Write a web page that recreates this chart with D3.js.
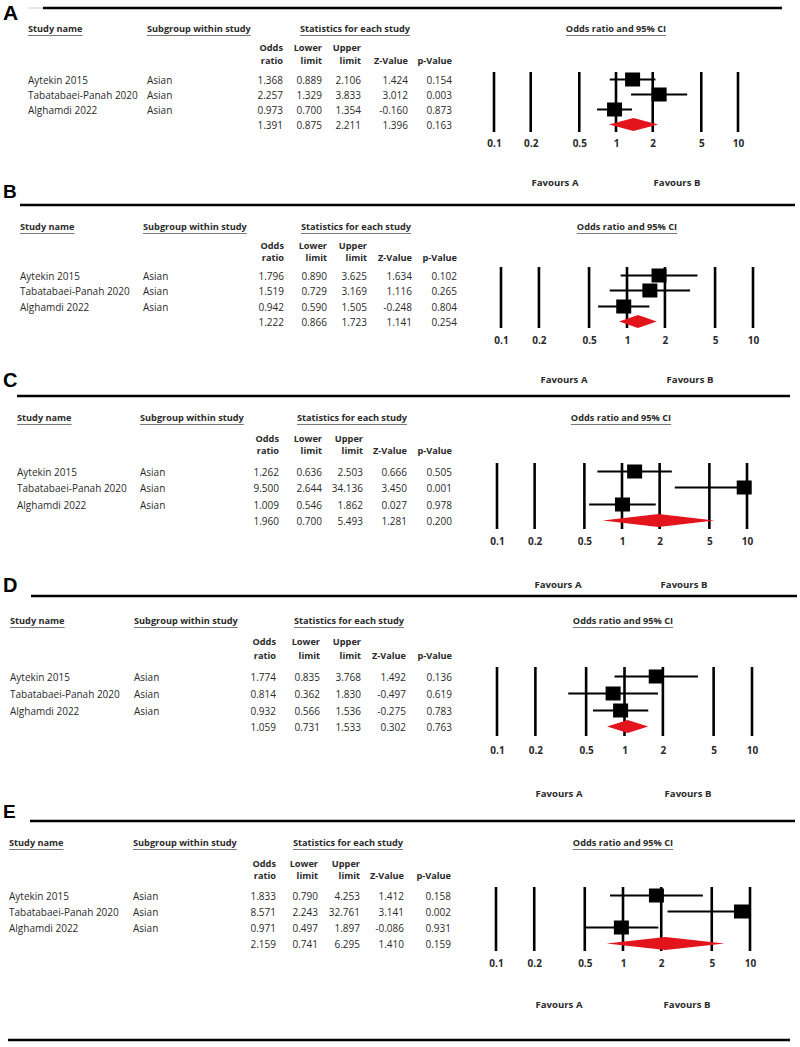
<!DOCTYPE html>
<html><head><meta charset="utf-8">
<script src="https://cdn.jsdelivr.net/npm/d3@7"></script>
<style>
html,body{margin:0;padding:0;background:#fff;}
svg{display:block;}
text{font-family:"Open Sans",Lato,sans-serif;fill:#2a2a2a;}
</style></head>
<body>
<svg id="chart" width="800" height="1047"></svg>
<script>
// ---------------- data ----------------
const panelLabels = ["A","B","C","D","E"];
const studies = ["Aytekin 2015","Tabatabaei-Panah 2020","Alghamdi 2022"];
const subgroups = ["Asian","Asian","Asian"];
// last value in each row = summary (diamond)
const oddsRatio = [
  [1.368,2.257,0.973,1.391],
  [1.796,1.519,0.942,1.222],
  [1.262,9.500,1.009,1.960],
  [1.774,0.814,0.932,1.059],
  [1.833,8.571,0.971,2.159]
];
const lowerLimit = [
  [0.889,1.329,0.700,0.875],
  [0.890,0.729,0.590,0.866],
  [0.636,2.644,0.546,0.700],
  [0.835,0.362,0.566,0.731],
  [0.790,2.243,0.497,0.741]
];
const upperLimit = [
  [2.106,3.833,1.354,2.211],
  [3.625,3.169,1.505,1.723],
  [2.503,34.136,1.862,5.493],
  [3.768,1.830,1.536,1.533],
  [4.253,32.761,1.897,6.295]
];
const zValue = [
  [1.424,3.012,-0.160,1.396],
  [1.634,1.116,-0.248,1.141],
  [0.666,3.450,0.027,1.281],
  [1.492,-0.497,-0.275,0.302],
  [1.412,3.141,-0.086,1.410]
];
const pValue = [
  [0.154,0.003,0.873,0.163],
  [0.102,0.265,0.804,0.254],
  [0.505,0.001,0.978,0.200],
  [0.136,0.619,0.783,0.763],
  [0.158,0.002,0.931,0.159]
];
const tickValues = [0.1,0.2,0.5,1,2,5,10];
const tickLabels = ["0.1","0.2","0.5","1","2","5","10"];
const colHeaders = [["Odds","ratio"],["Lower","limit"],["Upper","limit"],["","Z-Value"],["","p-Value"]];
const favourLabels = ["Favours A","Favours B"];

// ---------------- layout (positions only) ----------------
const layout = [
  {lab:{x:3,y:20,s:21}, rule:{y:8,x1:43,x2:782}, hdr:29, ch:[48,61], rows:[80,95,110,125],
   name:28, sub:147, stats:300, num:[283,322,361,408,452],
   fx:[494,738], title:616, v:[72,132], tick:146, fav:{y:183,a:555,b:677}},
  {lab:{x:3,y:198,s:19}, rule:{y:205,x1:20,x2:795}, hdr:227, ch:[246,258], rows:[276,291,307,322],
   name:20, sub:143, stats:301, num:[284,327,367,412,457],
   fx:[501,753], title:627, v:[267,328], tick:343, fav:{y:380,a:564,b:690}},
  {lab:{x:3,y:387,s:20}, rule:{y:396,x1:17,x2:790}, hdr:418, ch:[439,451], rows:[472,488,505,521],
   name:17, sub:140, stats:297, num:[279,322,363,407,452],
   fx:[497,747], title:621, v:[463,529], tick:544, fav:{y:585,a:558,b:684}},
  {lab:{x:3,y:592,s:20}, rule:{y:596,x1:31,x2:797}, hdr:621, ch:[642,656], rows:[677,694,711,727],
   name:10, sub:134, stats:294, num:[276,320,361,406,452],
   fx:[497,752], title:623, v:[667,736], tick:753, fav:{y:794,a:559,b:688}},
  {lab:{x:3,y:818,s:19}, rule:{y:821,x1:30,x2:795}, hdr:843, ch:[864,876], rows:[896,912,928,944],
   name:9, sub:133, stats:293, num:[276,318,360,404,451],
   fx:[496,750], title:623, v:[887,951], tick:966, fav:{y:1005,a:559,b:687}}
];

const svg = d3.select("#chart");
const FS = 10, HFS = 9.2;

function underlined(g, x, y, txt, anchor){
  const t = g.append("text").attr("x",x).attr("y",y).attr("dy","0.35em")
    .attr("font-size",HFS).attr("font-weight",700).attr("text-anchor",anchor||"start").text(txt);
  const w = t.node().getComputedTextLength();
  const x0 = anchor==="middle" ? x-w/2 : x;
  g.append("line").attr("x1",x0).attr("x2",x0+w).attr("y1",y+6.5).attr("y2",y+6.5)
    .attr("stroke","#777").attr("stroke-width",1);
}

// faint line before panel A rule
svg.append("line").attr("x1",28).attr("x2",43).attr("y1",8).attr("y2",8).attr("stroke","#ccc").attr("stroke-width",1);

panelLabels.forEach((lab,p)=>{
  const L = layout[p];
  const g = svg.append("g");
  // panel letter
  g.append("text").attr("x",L.lab.x).attr("y",L.lab.y).text(lab)
    .style("font-family","'Liberation Sans',Arial,sans-serif").attr("font-weight",700)
    .attr("font-size",L.lab.s).style("fill","#000");
  // rule
  g.append("line").attr("x1",L.rule.x1).attr("x2",L.rule.x2).attr("y1",L.rule.y).attr("y2",L.rule.y)
    .attr("stroke","#000").attr("stroke-width",2.5);
  // headers
  underlined(g, L.name, L.hdr, "Study name");
  underlined(g, L.sub, L.hdr, "Subgroup within study");
  underlined(g, L.stats, L.hdr, "Statistics for each study");
  colHeaders.forEach((h,i)=>{
    h.forEach((line,k)=>{
      if(!line) return;
      g.append("text").attr("x",L.num[i]).attr("y",L.ch[k]).attr("dy","0.35em")
        .attr("text-anchor","end").attr("font-size",HFS).attr("font-weight",700).text(line);
    });
  });
  // rows
  const cols = [oddsRatio[p],lowerLimit[p],upperLimit[p],zValue[p],pValue[p]];
  L.rows.forEach((y,r)=>{
    if(r<studies.length){
      g.append("text").attr("x",L.name).attr("y",y).attr("dy","0.35em").attr("font-size",FS).text(studies[r]);
      g.append("text").attr("x",L.sub).attr("y",y).attr("dy","0.35em").attr("font-size",FS).text(subgroups[r]);
    }
    cols.forEach((c,i)=>{
      g.append("text").attr("x",L.num[i]).attr("y",y).attr("dy","0.35em").attr("text-anchor","end")
        .attr("font-size",FS).text(c[r].toFixed(3));
    });
  });

  // forest plot
  const x = d3.scaleLog().domain([0.1,10]).range(L.fx).clamp(true);
  underlined(g, L.title, L.hdr, "Odds ratio and 95% CI", "middle");
  // vertical reference lines (grid at ticks)
  g.selectAll(".vl").data(tickValues).join("line")
    .attr("x1",d=>x(d)).attr("x2",d=>x(d)).attr("y1",L.v[0]).attr("y2",L.v[1])
    .attr("stroke","#000").attr("stroke-width",2.6);
  const axis = d3.axisBottom(x).tickValues(tickValues).tickFormat((d,i)=>tickLabels[i]).tickSize(0).tickPadding(0);
  const ag = g.append("g").attr("transform",`translate(0,${L.tick-6})`).call(axis);
  ag.select(".domain").remove();
  ag.selectAll("text").attr("font-size",10).attr("font-weight",700).style("font-family","'Open Sans',Lato,sans-serif").style("fill","#2a2a2a");
  // CIs and squares
  for(let r=0;r<3;r++){
    const y = L.rows[r]-0.5;
    g.append("line").attr("x1",x(lowerLimit[p][r])).attr("x2",x(upperLimit[p][r]))
      .attr("y1",y).attr("y2",y).attr("stroke","#000").attr("stroke-width",2);
    const cx = x(oddsRatio[p][r]);
    g.append("rect").attr("x",cx-7.5).attr("y",y-7).attr("width",15).attr("height",14).attr("fill","#000");
  }
  // summary diamond
  const yd = L.rows[3]-0.5, h = 6.5;
  const pts = [[x(lowerLimit[p][3]),yd],[x(oddsRatio[p][3]),yd-h],[x(upperLimit[p][3]),yd],[x(oddsRatio[p][3]),yd+h]];
  g.append("path").attr("d",d3.line()(pts)+"Z").attr("fill","#e3141b");
  // favours
  g.append("text").attr("x",L.fav.a).attr("y",L.fav.y).attr("dy","0.35em").attr("text-anchor","middle")
    .attr("font-size",9.6).attr("font-weight",700).text(favourLabels[0]);
  g.append("text").attr("x",L.fav.b).attr("y",L.fav.y).attr("dy","0.35em").attr("text-anchor","middle")
    .attr("font-size",9.6).attr("font-weight",700).text(favourLabels[1]);
});
// bottom rule
svg.append("line").attr("x1",8).attr("x2",790).attr("y1",1040).attr("y2",1040).attr("stroke","#000").attr("stroke-width",2.5);
</script>
</body></html>
